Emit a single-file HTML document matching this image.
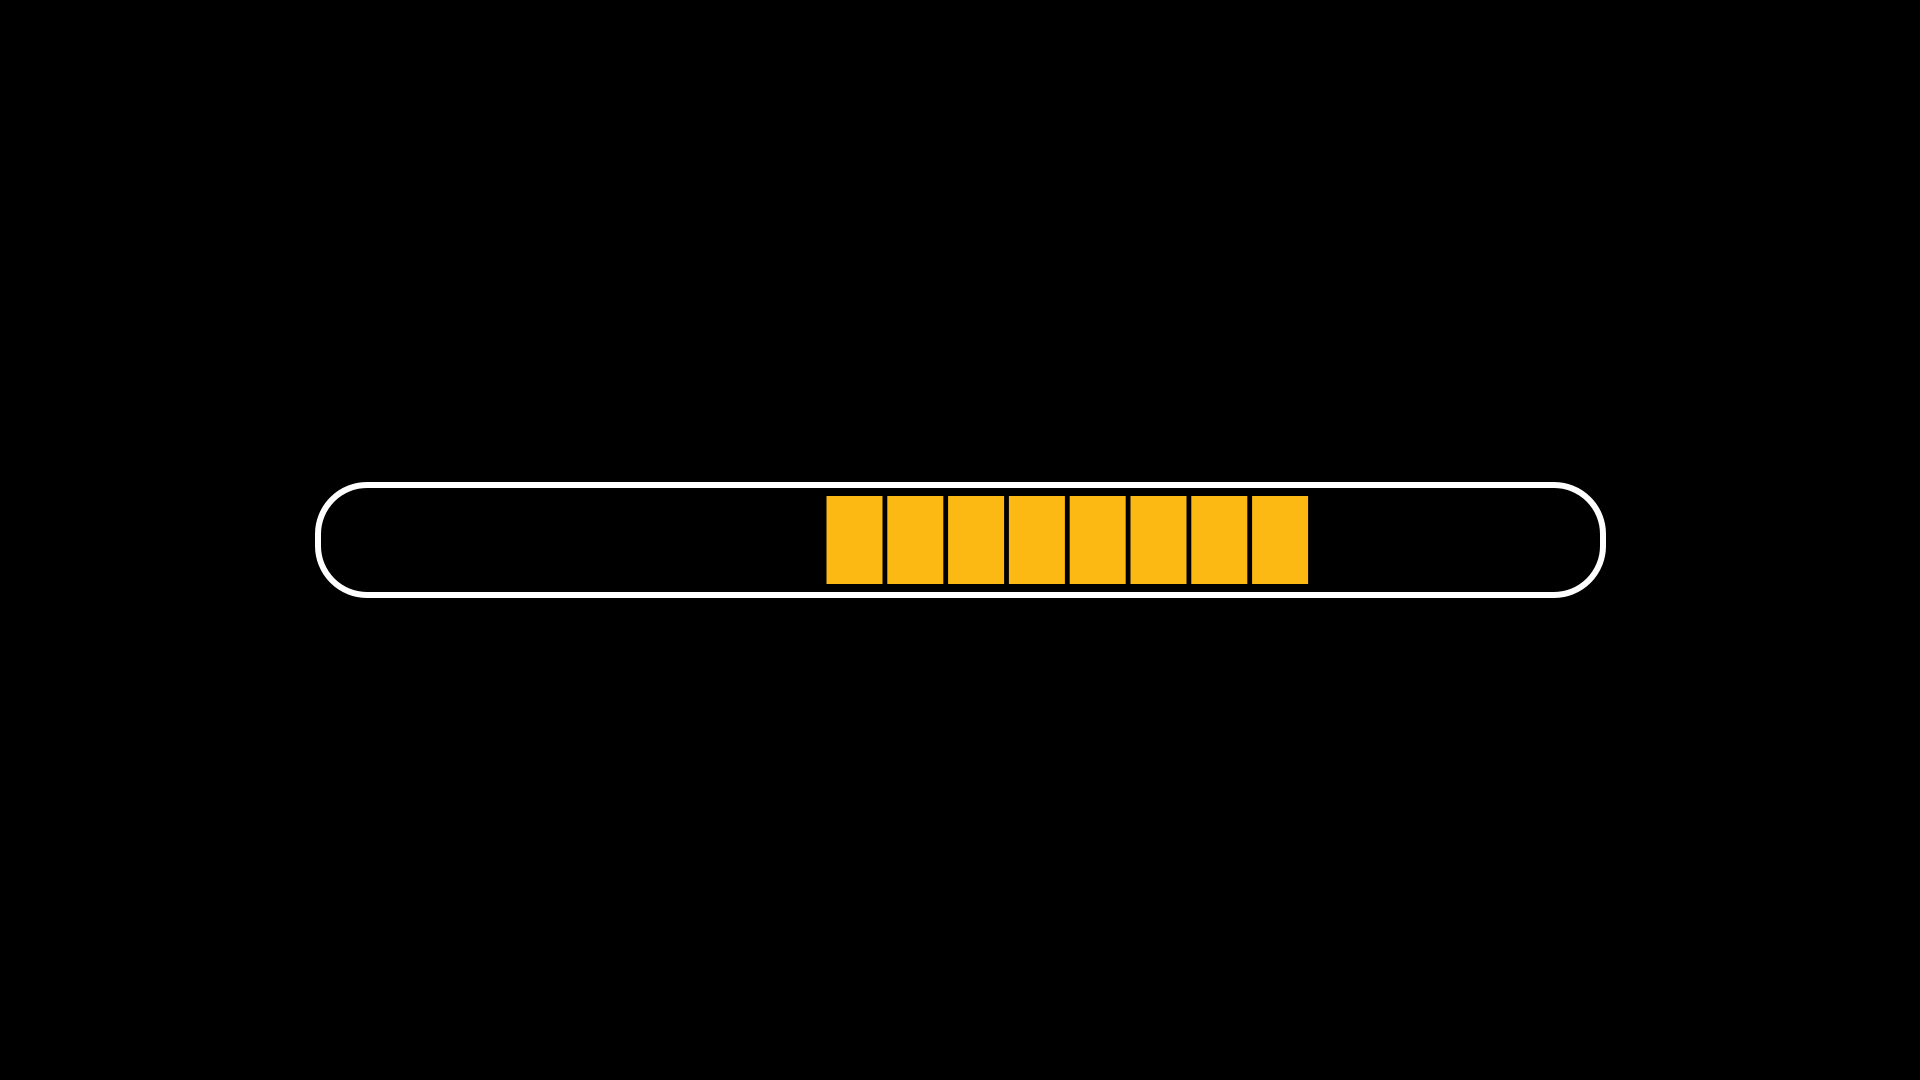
<!DOCTYPE html>
<html><head><style>
html,body{margin:0;padding:0;background:#000;width:1920px;height:1080px;overflow:hidden}
</style></head><body>
<svg width="1920" height="1080" xmlns="http://www.w3.org/2000/svg">
<rect x="0" y="0" width="1920" height="1080" fill="#000"/>
<rect x="318" y="485" width="1285" height="110" rx="49" ry="49" fill="none" stroke="#fff" stroke-width="6"/>
<g fill="#FDB913">
<rect x="826.5" y="496" width="56" height="88"/>
<rect x="887.3" y="496" width="56" height="88"/>
<rect x="948.1" y="496" width="56" height="88"/>
<rect x="1008.9" y="496" width="56" height="88"/>
<rect x="1069.7" y="496" width="56" height="88"/>
<rect x="1130.5" y="496" width="56" height="88"/>
<rect x="1191.3" y="496" width="56" height="88"/>
<rect x="1252.1" y="496" width="56" height="88"/>
</g>
</svg>
</body></html>
